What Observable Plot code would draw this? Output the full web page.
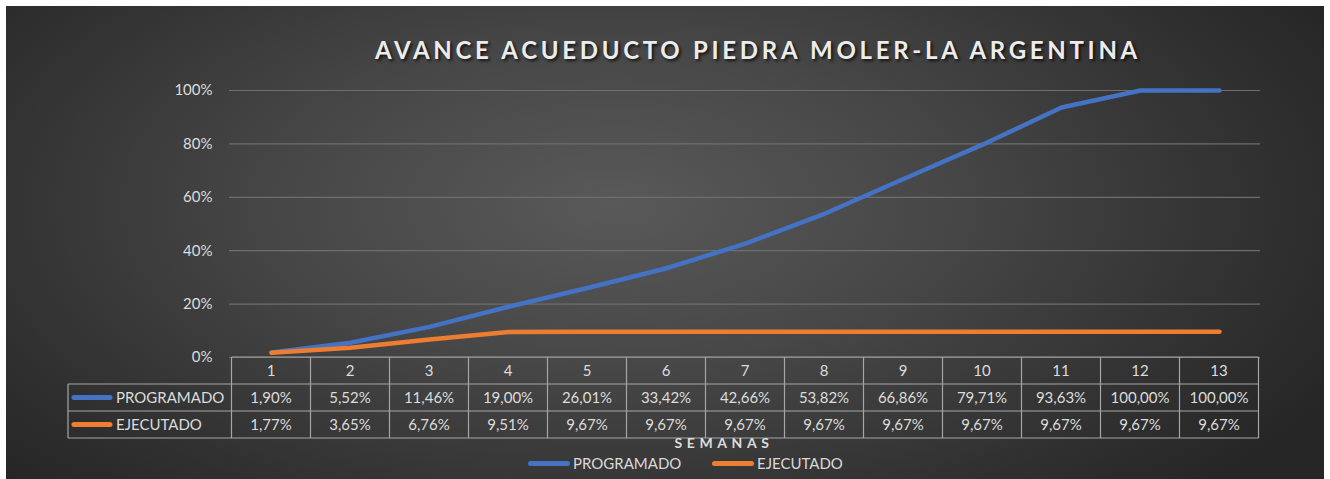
<!DOCTYPE html>
<html>
<head>
<meta charset="utf-8">
<script src="https://cdn.jsdelivr.net/npm/d3@7"></script>
<script src="https://cdn.jsdelivr.net/npm/@observablehq/plot@0.6"></script>
<style>
  html, body { margin: 0; padding: 0; background: #ffffff; }
  body { width: 1330px; height: 479px; overflow: hidden; position: relative; font-family: Lato, "Open Sans", sans-serif; }
  #card {
    position: absolute; left: 6px; top: 6px; width: 1318px; height: 473px;
    background: radial-gradient(ellipse 62% 85% at 46% 42%, #595959 0%, #474747 40%, #333333 75%, #262626 100%);
    overflow: hidden;
  }
  #title {
    box-sizing: border-box; height: 64px; width: 100%; padding-left: 186px; padding-top: 30px;
    text-align: center; font-weight: 700; font-size: 24px; letter-spacing: 3.7px; line-height: 28px;
    color: #ececec; text-shadow: 2px 2px 3px rgba(0,0,0,0.7);
  }
  #chart svg { display: block; }
  #legend { position: relative; height: 21px; font-size: 15px; color: #d9d9d9; }
  .item { position: absolute; top: 2px; display: flex; align-items: center; line-height: 18px; }
  .key { display: inline-block; width: 42px; height: 5px; border-radius: 3px; margin-right: 3px; }
</style>
</head>
<body>
<div id="card">
  <div id="title">AVANCE ACUEDUCTO PIEDRA MOLER-LA ARGENTINA</div>
  <div id="chart"></div>
  <div id="legend">
    <div class="item" style="left:522px"><span class="key" style="background:#4472c4"></span>PROGRAMADO</div>
    <div class="item" style="left:706px"><span class="key" style="background:#ed7d31"></span>EJECUTADO</div>
  </div>
</div>
<script>
const weeks = [1, 2, 3, 4, 5, 6, 7, 8, 9, 10, 11, 12, 13];
const programado = [1.90, 5.52, 11.46, 19.00, 26.01, 33.42, 42.66, 53.82, 66.86, 79.71, 93.63, 100.00, 100.00];
const ejecutado = [1.77, 3.65, 6.76, 9.51, 9.67, 9.67, 9.67, 9.67, 9.67, 9.67, 9.67, 9.67, 9.67];
const seriesNames = ["PROGRAMADO", "EJECUTADO"];
const seriesColors = ["#4472c4", "#ed7d31"];
const yTicks = [0, 20, 40, 60, 80, 100];
const xLabel = "SEMANAS";

const fmt = v => v.toFixed(2).replace(".", ",") + "%";

const rows = [];
weeks.forEach((w, i) => {
  rows.push({week: w, value: programado[i], series: seriesNames[0]});
  rows.push({week: w, value: ejecutado[i], series: seriesNames[1]});
});

// data table drawn under the x axis, positioned with the x scale
function dataTable(index, scales, values, dims) {
  const x = scales.x;
  const step = x(weeks[1]) - x(weeks[0]);
  const top = dims.height - dims.marginBottom;
  const rowH = 27;
  const xL = x(weeks[0]) - step / 2;
  const xR = x(weeks[weeks.length - 1]) + step / 2;
  const labelLeft = 62;
  const g = d3.create("svg:g");
  const lineColor = "#a6a6a6";
  const textColor = "#dcdcdc";
  g.append("line").attr("x1", xL).attr("x2", xR).attr("y1", top).attr("y2", top);
  for (let r = 1; r <= 3; r++) {
    g.append("line").attr("x1", labelLeft).attr("x2", xR).attr("y1", top + r * rowH).attr("y2", top + r * rowH);
  }
  g.append("line").attr("x1", labelLeft).attr("x2", labelLeft).attr("y1", top + rowH).attr("y2", top + 3 * rowH);
  weeks.forEach(w => {
    const xb = x(w) - step / 2;
    g.append("line").attr("x1", xb).attr("x2", xb).attr("y1", top).attr("y2", top + 3 * rowH);
  });
  g.append("line").attr("x1", xR).attr("x2", xR).attr("y1", top).attr("y2", top + 3 * rowH);
  g.selectAll("line").attr("stroke", lineColor).attr("stroke-width", 1.2);
  weeks.forEach(w => {
    g.append("text").attr("x", x(w)).attr("y", top + rowH / 2).text(w);
  });
  const cols = [programado, ejecutado];
  cols.forEach((arr, r) => {
    const cy = top + rowH * (r + 1.5);
    arr.forEach((v, i) => {
      g.append("text").attr("x", x(weeks[i])).attr("y", cy).text(fmt(v));
    });
    g.append("line").attr("x1", labelLeft + 6).attr("x2", labelLeft + 42).attr("y1", cy).attr("y2", cy)
      .attr("stroke", seriesColors[r]).attr("stroke-width", 5).attr("stroke-linecap", "round");
    g.append("text").attr("x", labelLeft + 48).attr("y", cy).attr("text-anchor", "start").text(seriesNames[r]);
  });
  g.selectAll("text").filter(function() { return !this.getAttribute("text-anchor"); }).attr("text-anchor", "middle");
  g.selectAll("text").attr("dy", "0.36em").attr("fill", textColor).attr("font-size", 15);
  g.append("text").attr("x", 718).attr("y", top + 86).attr("dy", "0.36em")
    .attr("text-anchor", "middle").attr("font-weight", 700).attr("font-size", 14)
    .attr("letter-spacing", "4.6px").attr("fill", textColor).text(xLabel);
  return g.node();
}

const plot = Plot.plot({
  width: 1318,
  height: 382,
  marginLeft: 223,
  marginRight: 64,
  marginTop: 20,
  marginBottom: 95,
  style: {background: "transparent", color: "#dcdcdc", fontFamily: "Lato, 'Open Sans', sans-serif", fontSize: "15px", overflow: "visible"},
  x: {type: "point", domain: weeks, padding: 0.5, axis: null},
  y: {domain: [0, 100], ticks: yTicks, tickFormat: d => d + "%"},
  color: {domain: seriesNames, range: seriesColors},
  marks: [
    Plot.gridY(yTicks, {stroke: "#6e6e6e", strokeOpacity: 1, strokeWidth: 1.2}),
    Plot.axisY(yTicks, {tickSize: 0, tickPadding: 17, label: null, fontSize: 15, tickFormat: d => d + "%"}),
    Plot.lineY(rows, {
      x: "week", y: "value", z: "series", stroke: "series",
      strokeWidth: 4.5, strokeLinejoin: "round", strokeLinecap: "round",
      style: "filter: drop-shadow(2px 3px 2px rgba(0,0,0,0.55))"
    }),
    dataTable
  ]
});
document.getElementById("chart").appendChild(plot);
</script>
</body>
</html>
